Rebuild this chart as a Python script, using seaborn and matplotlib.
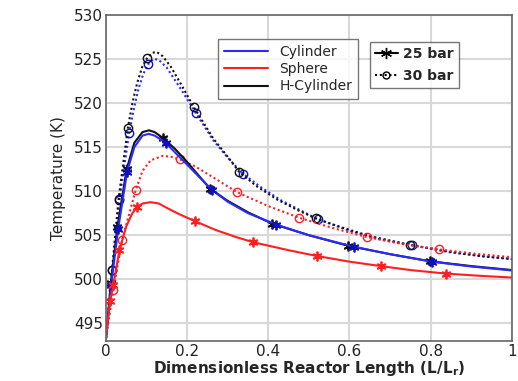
import matplotlib
matplotlib.use("Agg")
import matplotlib.pyplot as plt
from matplotlib.lines import Line2D
import numpy as np
import pandas as pd
import seaborn as sns

# Temperature profiles along the reactor (x = L/Lr, T in K)
cyl25_x = [0, 0.013, 0.03, 0.052, 0.07, 0.09, 0.105, 0.12, 0.147, 0.17, 0.2, 0.262, 0.3, 0.35, 0.42, 0.5, 0.61, 0.7, 0.803, 0.9, 1.0]
cyl25_y = [493.3, 499.4, 505.7, 512.2, 515.0, 516.3, 516.5, 516.3, 515.5, 514.4, 513.0, 510.1, 508.8, 507.5, 506.2, 505.0, 503.7, 502.85, 502.0, 501.45, 501.0]

hcyl25_x = [0, 0.012, 0.028, 0.051, 0.07, 0.09, 0.106, 0.12, 0.141, 0.17, 0.2, 0.256, 0.3, 0.35, 0.41, 0.5, 0.597, 0.7, 0.798, 0.9, 1.0]
hcyl25_y = [493.3, 499.6, 505.9, 512.5, 515.5, 516.7, 516.9, 516.7, 516.0, 514.8, 513.3, 510.3, 508.9, 507.6, 506.3, 505.0, 503.8, 502.85, 502.05, 501.5, 501.05]

sph25_x = [0, 0.01, 0.018, 0.033, 0.05, 0.065, 0.077, 0.09, 0.11, 0.13, 0.15, 0.18, 0.219, 0.27, 0.32, 0.363, 0.45, 0.519, 0.6, 0.677, 0.75, 0.837, 0.92, 1.0]
sph25_y = [493.3, 497.5, 499.3, 503.3, 506.0, 507.5, 508.2, 508.6, 508.75, 508.6, 508.1, 507.4, 506.6, 505.6, 504.8, 504.2, 503.3, 502.65, 502.0, 501.5, 501.05, 500.65, 500.4, 500.2]

cyl30_x = [0, 0.016, 0.033, 0.057, 0.07, 0.08, 0.092, 0.104, 0.117, 0.13, 0.15, 0.18, 0.221, 0.264, 0.3, 0.337, 0.38, 0.43, 0.48, 0.523, 0.6, 0.68, 0.755, 0.85, 0.93, 1.0]
cyl30_y = [493.3, 501.0, 509.0, 516.6, 519.6, 521.6, 523.3, 524.4, 525.0, 524.9, 524.0, 521.9, 518.9, 515.8, 513.8, 512.0, 510.5, 509.0, 507.8, 506.8, 505.5, 504.5, 503.85, 503.05, 502.6, 502.3]

hcyl30_x = [0, 0.015, 0.031, 0.054, 0.066, 0.077, 0.09, 0.102, 0.115, 0.125, 0.14, 0.16, 0.184, 0.217, 0.264, 0.3, 0.328, 0.37, 0.42, 0.47, 0.517, 0.58, 0.65, 0.75, 0.85, 0.93, 1.0]
hcyl30_y = [493.3, 501.1, 509.1, 517.2, 520.2, 522.3, 524.2, 525.15, 525.7, 525.8, 525.3, 524.1, 522.2, 519.5, 516.0, 513.9, 512.2, 510.6, 509.1, 507.9, 506.9, 505.9, 504.9, 503.9, 503.1, 502.6, 502.3]

sph30_x = [0, 0.018, 0.04, 0.073, 0.09, 0.11, 0.14, 0.16, 0.182, 0.22, 0.27, 0.322, 0.4, 0.475, 0.56, 0.642, 0.73, 0.82, 0.91, 1.0]
sph30_y = [493.3, 498.8, 504.5, 510.1, 512.3, 513.5, 514.0, 513.9, 513.6, 512.8, 511.4, 509.9, 508.3, 507.0, 505.8, 504.8, 504.0, 503.4, 502.9, 502.5]

# Marker locations on each profile
cyl25_mx = [0.013, 0.03, 0.052, 0.147, 0.262, 0.42, 0.61, 0.803]
cyl25_my = [499.4, 505.7, 512.2, 515.5, 510.1, 506.2, 503.7, 502.0]
hcyl25_mx = [0.012, 0.028, 0.051, 0.141, 0.256, 0.41, 0.597, 0.798]
hcyl25_my = [499.6, 505.9, 512.5, 516.0, 510.3, 506.3, 503.8, 502.05]
sph25_mx = [0.01, 0.018, 0.033, 0.077, 0.219, 0.363, 0.519, 0.677, 0.837]
sph25_my = [497.5, 499.3, 503.3, 508.2, 506.6, 504.2, 502.65, 501.5, 500.65]
cyl30_mx = [0.016, 0.033, 0.057, 0.104, 0.221, 0.337, 0.523, 0.755]
cyl30_my = [501.0, 509.0, 516.6, 524.4, 518.9, 512.0, 506.8, 503.85]
hcyl30_mx = [0.015, 0.031, 0.054, 0.102, 0.217, 0.328, 0.517, 0.75]
hcyl30_my = [501.1, 509.1, 517.2, 525.15, 519.5, 512.2, 506.9, 503.9]
sph30_mx = [0.018, 0.04, 0.073, 0.182, 0.322, 0.475, 0.642, 0.82]
sph30_my = [498.8, 504.5, 510.1, 513.6, 509.9, 507.0, 504.8, 503.4]

geometries = ["Cylinder", "Sphere", "H-Cylinder"]
pressures = ["25 bar", "30 bar"]
x_ticks = [0, 0.2, 0.4, 0.6, 0.8, 1]
x_tick_labels = ["0", "0.2", "0.4", "0.6", "0.8", "1"]
y_ticks = [495, 500, 505, 510, 515, 520, 525, 530]

colors = {"Cylinder": "#2b2bff", "Sphere": "#ff1f1f", "H-Cylinder": "#111111"}
marker_colors = {"Cylinder": "#1010c0", "Sphere": "#ff1f1f", "H-Cylinder": "#111111"}

curves = [
    ("Cylinder", "30 bar", cyl30_x, cyl30_y, cyl30_mx, cyl30_my),
    ("H-Cylinder", "30 bar", hcyl30_x, hcyl30_y, hcyl30_mx, hcyl30_my),
    ("Sphere", "30 bar", sph30_x, sph30_y, sph30_mx, sph30_my),
    ("H-Cylinder", "25 bar", hcyl25_x, hcyl25_y, hcyl25_mx, hcyl25_my),
    ("Cylinder", "25 bar", cyl25_x, cyl25_y, cyl25_mx, cyl25_my),
    ("Sphere", "25 bar", sph25_x, sph25_y, sph25_mx, sph25_my),
]

sns.set_theme(style="white")
plt.rcParams["font.family"] = ["DejaVu Sans"]

fig = plt.figure(figsize=(5.18, 3.81), dpi=100)
ax = fig.add_axes([0.2046, 0.105, 0.7834, 0.856])

asterisk = (6, 2, 0)
dotted = (0, (1.0, 1.3))
for geom, pres, xs, ys, mx, my in curves:
    df = pd.DataFrame({"x": xs, "T": ys})
    ls = "-" if pres == "25 bar" else dotted
    sns.lineplot(data=df, x="x", y="T", ax=ax, sort=False, estimator=None,
                 color=colors[geom], linestyle=ls, linewidth=1.5)
    mdf = pd.DataFrame({"x": mx, "T": my})
    if pres == "25 bar":
        ax.plot(mdf["x"], mdf["T"], linestyle="none", marker=asterisk, markersize=7,
                markeredgewidth=1.3, color=marker_colors[geom])
    else:
        ax.plot(mdf["x"], mdf["T"], linestyle="none", marker="o", markersize=6,
                markeredgewidth=1.0, markerfacecolor="none",
                markeredgecolor=marker_colors[geom])

ax.set_xlim(0, 1)
ax.set_ylim(493, 530)
ax.set_xticks(x_ticks)
ax.set_xticklabels(x_tick_labels)
ax.set_yticks(y_ticks)
ax.grid(True, color="#d8d8d8", linewidth=1.5)
ax.set_axisbelow(True)
ax.tick_params(axis="both", labelsize=11, direction="in", length=3, pad=2, colors="#222222")
for s in ax.spines.values():
    s.set_color("#666666")
    s.set_linewidth(1.2)

ax.set_xlabel("Dimensionless Reactor Length (L/L$_\\mathregular{r}$)", fontsize=11,
              fontweight="bold", labelpad=0)
ax.set_ylabel("Temperature (K)", fontsize=11, labelpad=6)

geom_handles = [Line2D([], [], color=colors[g], linewidth=1.5) for g in geometries]
leg1 = ax.legend(geom_handles, geometries, loc="upper left", bbox_to_anchor=(0.277, 0.926),
                 fontsize=10, frameon=True, fancybox=False, edgecolor="#555555",
                 handlelength=3.2, handletextpad=0.8, labelspacing=0.25, borderpad=0.4,
                 borderaxespad=0)
leg1.get_frame().set_linewidth(1.0)
ax.add_artist(leg1)

pres_handles = [
    Line2D([], [], color="black", linestyle="-", marker=asterisk, markersize=8, linewidth=1.5),
    Line2D([], [], color="black", linestyle=dotted, marker="o", markersize=5,
           markerfacecolor="none", linewidth=1.5),
]
leg2 = ax.legend(pres_handles, pressures, loc="upper left", bbox_to_anchor=(0.65, 0.917),
                 prop={"size": 10, "weight": "bold"}, frameon=True, fancybox=False,
                 edgecolor="#555555", handlelength=1.7, handletextpad=0.35,
                 labelspacing=0.6, borderpad=0.35, borderaxespad=0)
leg2.get_frame().set_linewidth(1.0)

fig.savefig("out.png", dpi=100)
